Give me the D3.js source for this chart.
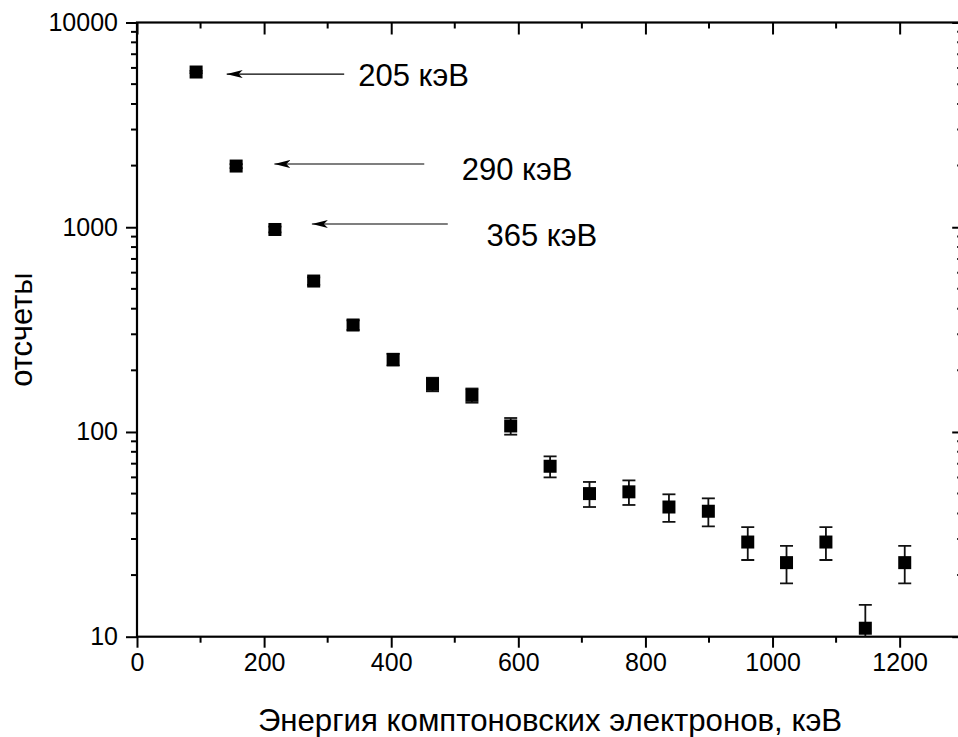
<!DOCTYPE html>
<html>
<head>
<meta charset="utf-8">
<script src="https://cdn.jsdelivr.net/npm/d3@7"></script>
<style>
  body { margin: 0; background: #fff; }
  text { font-family: "Liberation Sans", Arial, sans-serif; fill: #000; }
</style>
</head>
<body>
<div id="vis"></div>
<script>
// Chart data
const energy = [93, 156, 217, 278, 340, 403, 465, 527, 588, 650, 712, 774, 837, 899, 961, 1022, 1084, 1146, 1208]
const counts = [5730, 1990, 975, 546, 333, 226, 171, 151, 107, 68, 50, 51, 43, 41, 29, 23, 29, 11, 23]
const errors = [76, 45, 31, 23, 18, 15, 13, 12, 10, 8, 7, 7, 6.6, 6.4, 5.3, 4.8, 5.3, 3.3, 4.8]

const xTicks = [0, 200, 400, 600, 800, 1000, 1200]
const yTicks = [10, 100, 1000, 10000]

// annotations: arrow tip, arrow tail (x in keV, y in counts), label position
const notes = [
  {text: "205 кэВ", tip: 138, tail: 326, y: 5600, labelX: 348, labelY: 5570},
  {text: "290 кэВ", tip: 213, tail: 452, y: 2036, labelX: 511, labelY: 1923},
  {text: "365 кэВ", tip: 272, tail: 489, y: 1037, labelX: 550, labelY: 916}
]

const W = 958, H = 737
const margin = {left: 137, top: 22.5, right: -5.2, bottom: 100.3}

const x = d3.scaleLinear()
    .domain([0, 1300])
    .range([margin.left, W - margin.right])

const y = d3.scaleLog()
    .domain([10, 10000])
    .range([H - margin.bottom, margin.top])

const svg = d3.select("#vis")
    .append("svg")
    .attr("width", W)
    .attr("height", H)

// minor ticks for the log axis
let yMinor = []
for (let d = 10; d < 10000; d *= 10) {
    for (let k = 2; k <= 9; k++) yMinor.push(d * k)
}
const xMinor = d3.range(100, 1300, 200)

const x0 = x.range()[0], x1 = x.range()[1]
const y0 = y.range()[0], y1 = y.range()[1]

// bottom axis
const axBottom = svg.append("g")
    .attr("transform", `translate(0,${y0})`)
    .call(d3.axisBottom(x).tickValues(xTicks).tickSize(11).tickPadding(6).tickFormat(d3.format("d")))
axBottom.append("g").selectAll("line").data(xMinor).enter().append("line")
    .attr("x1", d => x(d)).attr("x2", d => x(d)).attr("y1", 0).attr("y2", 6)

// top axis (ticks inward, no labels)
const axTop = svg.append("g")
    .attr("transform", `translate(0,${y1})`)
    .call(d3.axisBottom(x).tickValues(xTicks).tickSize(12).tickFormat(""))
axTop.append("g").selectAll("line").data(xMinor).enter().append("line")
    .attr("x1", d => x(d)).attr("x2", d => x(d)).attr("y1", 0).attr("y2", 6)

// left axis
const axLeft = svg.append("g")
    .attr("transform", `translate(${x0},0)`)
    .call(d3.axisLeft(y).tickValues(yTicks).tickSize(11).tickPadding(8).tickFormat(d3.format("d")))
axLeft.append("g").selectAll("line").data(yMinor).enter().append("line")
    .attr("y1", d => y(d)).attr("y2", d => y(d)).attr("x1", 0).attr("x2", -6)

// right axis (ticks inward)
const axRight = svg.append("g")
    .attr("transform", `translate(${x1},0)`)
    .call(d3.axisLeft(y).tickValues(yTicks).tickSize(11).tickFormat(""))
axRight.append("g").selectAll("line").data(yMinor).enter().append("line")
    .attr("y1", d => y(d)).attr("y2", d => y(d)).attr("x1", 0).attr("x2", -6)

svg.selectAll(".tick line, g g line")
    .attr("stroke", "#000")
    .attr("stroke-width", 2)
svg.selectAll(".tick text")
    .style("font-size", "25px")
    .attr("fill", "#000")

// outer frame without the tick offsets
svg.selectAll(".domain").remove()
svg.append("rect")
    .attr("x", x0).attr("y", y1)
    .attr("width", x1 - x0).attr("height", y0 - y1)
    .attr("fill", "none")
    .attr("stroke", "#000")
    .attr("stroke-width", 2.2)

// clip for error bars
svg.append("clipPath").attr("id", "plot")
    .append("rect")
    .attr("x", x0).attr("y", y1)
    .attr("width", x1 - x0).attr("height", y0 - y1)

const pts = energy.map((e, i) => ({e: e, c: counts[i], err: errors[i]}))

const bars = svg.append("g").attr("clip-path", "url(#plot)")
    .selectAll("g")
    .data(pts)
    .enter()
    .append("g")
    .attr("stroke", "#111")
    .attr("stroke-width", 1.8)

bars.append("line")
    .attr("x1", d => x(d.e)).attr("x2", d => x(d.e))
    .attr("y1", d => y(d.c + d.err)).attr("y2", d => y(Math.max(d.c - d.err, 1)))
bars.append("line")
    .attr("x1", d => x(d.e) - 6.5).attr("x2", d => x(d.e) + 6.5)
    .attr("y1", d => y(d.c + d.err)).attr("y2", d => y(d.c + d.err))
bars.append("line")
    .attr("x1", d => x(d.e) - 6.5).attr("x2", d => x(d.e) + 6.5)
    .attr("y1", d => y(Math.max(d.c - d.err, 1))).attr("y2", d => y(Math.max(d.c - d.err, 1)))

svg.append("g")
    .selectAll("rect")
    .data(pts)
    .enter()
    .append("rect")
    .attr("x", d => x(d.e) - 6.5)
    .attr("y", d => y(d.c) - 6.5)
    .attr("width", 13)
    .attr("height", 13)
    .attr("fill", "#000")

// arrows and labels
svg.append("defs").append("marker")
    .attr("id", "head")
    .attr("viewBox", "0 0 16 8")
    .attr("refX", 0).attr("refY", 4)
    .attr("markerWidth", 16).attr("markerHeight", 8)
    .attr("markerUnits", "userSpaceOnUse")
    .attr("orient", "auto")
    .append("path")
    .attr("d", "M0,4 L16,0 L12,4 L16,8 Z")
    .attr("fill", "#000")

svg.append("g")
    .selectAll("line")
    .data(notes)
    .enter()
    .append("line")
    .attr("x1", d => x(d.tip) + 2).attr("x2", d => x(d.tail))
    .attr("y1", d => y(d.y)).attr("y2", d => y(d.y))
    .attr("stroke", "#000")
    .attr("stroke-width", 1.2)
    .attr("marker-start", "url(#head)")

svg.append("g")
    .selectAll("text")
    .data(notes)
    .enter()
    .append("text")
    .attr("x", d => x(d.labelX))
    .attr("y", d => y(d.labelY))
    .attr("dy", "0.36em")
    .style("font-size", "31px")
    .text(d => d.text)

// axis titles
svg.append("text")
    .attr("x", 550)
    .attr("y", 731)
    .attr("text-anchor", "middle")
    .style("font-size", "31.2px")
    .text("Энергия комптоновских электронов, кэВ")

svg.append("text")
    .attr("transform", `translate(32,${(y0 + y1) / 2}) rotate(-90)`)
    .attr("text-anchor", "middle")
    .style("font-size", "31px")
    .text("отсчеты")
</script>
</body>
</html>
